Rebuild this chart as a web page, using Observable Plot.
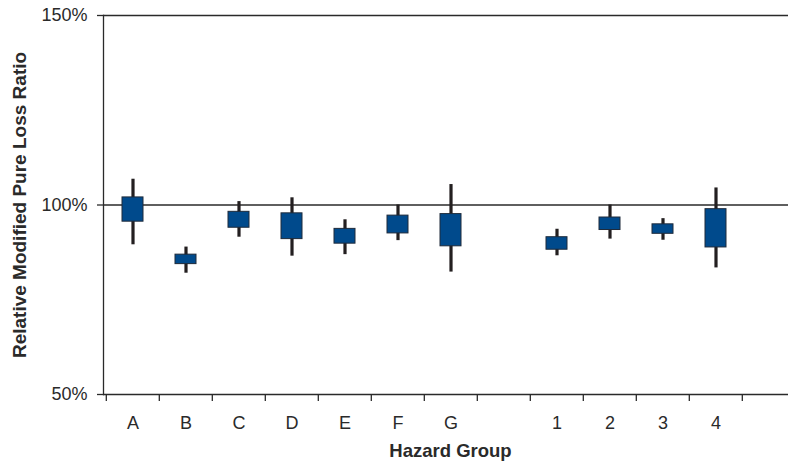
<!DOCTYPE html>
<html>
<head>
<meta charset="utf-8">
<script src="https://cdn.jsdelivr.net/npm/d3@7"></script>
<script src="https://cdn.jsdelivr.net/npm/@observablehq/plot@0.6"></script>
<style>
  html, body { margin: 0; padding: 0; background: #fff; }
  #chart svg { display: block; }
</style>
</head>
<body>
<div id="chart"></div>
<script>
// Data
const categories = ["A", "B", "C", "D", "E", "F", "G", "1", "2", "3", "4"];
const xDomain = ["A", "B", "C", "D", "E", "F", "G", " ", "1", "2", "3", "4", "  "];
const high      = [106.8, 88.9, 100.9, 101.9, 96.1, 100.0, 105.4, 93.6, 100.0, 96.4, 104.5];
const boxTop    = [102.0, 86.9,  98.2,  97.8, 93.7,  97.2,  97.6, 91.5,  96.7, 94.9,  98.9];
const boxBottom = [ 95.6, 84.4,  94.0,  91.0, 89.8,  92.5,  89.1, 88.2,  93.4, 92.4,  88.8];
const low       = [ 89.5, 82.0,  91.5,  86.5, 86.9,  90.6,  82.3, 86.6,  91.0, 90.7,  83.4];
const yTicks = [50, 100, 150];
const xTitle = "Hazard Group";
const yTitle = "Relative Modified Pure Loss Ratio";

const data = categories.map((c, i) => ({
  cat: c, high: high[i], top: boxTop[i], bottom: boxBottom[i], low: low[i]
}));

const width = 788, height = 470;
const marginLeft = 103, marginRight = -9, marginTop = 15, marginBottom = 76;
const bw = (width - marginLeft - marginRight) / xDomain.length;
const ink = "#2a2a2a";
const font = "'Liberation Sans', Arial, Helvetica, sans-serif";

const chart = Plot.plot({
  width, height, marginLeft, marginRight, marginTop, marginBottom,
  style: { fontFamily: font, fontSize: "18px", color: ink, background: "#fff", overflow: "hidden" },
  x: { type: "band", domain: xDomain, padding: 0 },
  y: { domain: [50, 150] },
  marks: [
    // gridline / frame lines
    Plot.ruleY(yTicks, { stroke: ink, strokeWidth: 1.3 }),
    Plot.frame({ anchor: "left", stroke: ink, strokeWidth: 1.3 }),
    // boundary ticks on x axis
    Plot.ruleX(xDomain, { x: d => d, dx: -bw / 2, y1: 50, y2: 50, insetBottom: -7, stroke: ink, strokeWidth: 1.3 }),
    Plot.axisY({ ticks: yTicks, tickFormat: d => d + "%", tickSize: 6, tickPadding: 10, fontSize: 18, label: null, stroke: ink, strokeWidth: 1.3 }),
    Plot.axisX({ tickSize: 0, tickPadding: 22, fontSize: 18, label: null }),
    // whiskers
    Plot.ruleX(data, { x: "cat", y1: "low", y2: "high", stroke: "#231f20", strokeWidth: 3.2 }),
    // boxes
    Plot.barY(data, { x: "cat", y1: "bottom", y2: "top", fill: "#004a8c", stroke: "#1e2a3a", strokeWidth: 1, insetLeft: 16, insetRight: 16 }),
    // titles
    Plot.text([xTitle], { text: d => d, frameAnchor: "bottom", dy: 62, fontSize: 18.5, fontWeight: "bold", fill: ink }),
    Plot.text([yTitle], { text: d => d, frameAnchor: "left", textAnchor: "middle", rotate: -90, dx: -84, fontSize: 19, fontWeight: "bold", fill: ink })
  ]
});
document.getElementById("chart").appendChild(chart);
</script>
</body>
</html>
